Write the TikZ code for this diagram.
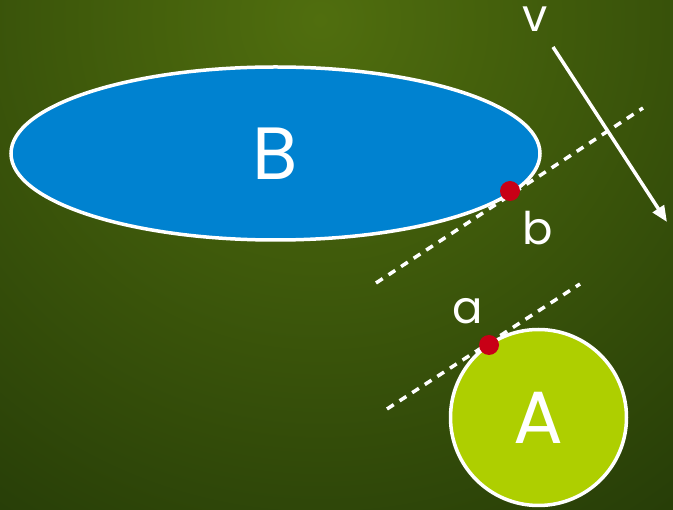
\documentclass[tikz,border=0pt]{standalone}
\usepackage{fontspec}
\setmainfont{Poppins}
\usetikzlibrary{shapes.geometric,arrows.meta}
\definecolor{bgin}{RGB}{80,110,14}
\definecolor{bgout}{RGB}{24,44,5}
\definecolor{bblue}{RGB}{0,130,208}
\definecolor{agreen}{RGB}{174,207,0}
\definecolor{dotred}{RGB}{200,0,22}
\tikzset{
  shapeline/.style={draw=white, line width=3.5pt},
  tangent/.style={draw=white, line width=3.5pt, dash pattern=on 8pt off 7pt},
  contact/.style={circle, fill=dotred, minimum size=20pt, inner sep=0pt},
  biglabel/.style={text=white, font=\fontsize{74}{74}\selectfont},
  smalllabel/.style={text=white, font=\fontsize{45}{45}\selectfont, inner sep=0pt},
}
\begin{document}
\begin{tikzpicture}[x=1pt,y=-1pt]
\useasboundingbox (0,0) rectangle (673,510);
\begin{scope}
\clip (0,0) rectangle (673,510);
\shade[inner color=bgin, outer color=bgout] (320,20) circle (820);
\end{scope}
% bodies
\node[ellipse, shapeline, fill=bblue, minimum width=529pt, minimum height=173pt, inner sep=0pt, biglabel] (B) at (275.5,153.5) {B};
\node[circle, shapeline, fill=agreen, minimum size=176pt, inner sep=0pt, biglabel] (A) at (538.5,417.5) {A};
% tangent lines
\coordinate (tb1) at (376,283);
\coordinate (tb2) at (643,108);
\coordinate (ta1) at (387,409);
\coordinate (ta2) at (580,284);
\draw[tangent] (tb1) -- (tb2);
\draw[tangent] (ta1) -- (ta2);
% contact points
\node[contact] (b) at (510,191) {};
\node[contact] (a) at (489,345) {};
% labels
\node[smalllabel] (lb) at (538,228) {b};
\node[smalllabel] (la) at (468,311) {a};
\node[smalllabel] (lv) at (535,19) {v};
% velocity arrow
\coordinate (v1) at (553,47);
\coordinate (v2) at (667,222);
\draw[white, line width=3.5pt, -{Triangle[length=16pt,width=13pt]}] (v1) -- (v2);
\end{tikzpicture}
\end{document}
